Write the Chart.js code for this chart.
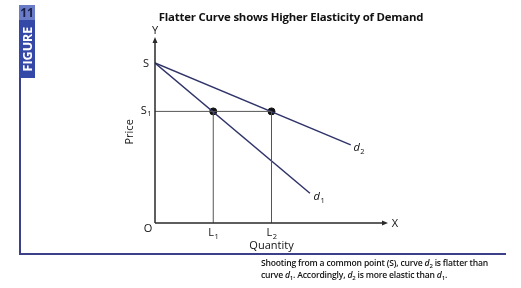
<!DOCTYPE html>
<html>
<head>
<meta charset="utf-8">
<script src="https://cdn.jsdelivr.net/npm/chart.js@4.4.1/dist/chart.umd.min.js"></script>
<style>
  html, body { margin: 0; padding: 0; background: #fff; }
  #wrap { position: relative; width: 521px; height: 288px; overflow: hidden; font-family: "Open Sans", "Noto Sans", sans-serif; }
  #c { position: absolute; left: 0; top: 0; }
  #title { position: absolute; left: 0; width: 521px; top: 9px; text-align: center; font-weight: bold; font-size: 11.4px; color: #111; letter-spacing: -0.2px; padding-left: 61px; box-sizing: border-box; }
  #figbox { position: absolute; left: 19px; top: 6px; width: 16px; height: 72px; background: #3448a8; }
  #fignum { position: absolute; left: 19px; top: 5px; width: 16px; text-align: center; font-weight: bold; font-size: 12px; color: #1a1f4a; background: #6a7cc8; line-height: 15px; }
  #figword { position: absolute; left: 27px; top: 49px; transform: translate(-50%, -50%) rotate(-90deg); font-weight: bold; font-size: 12.5px; color: #fff; white-space: nowrap; }
  #frameL { position: absolute; left: 19px; top: 78px; width: 2px; height: 177px; background: #3c4088; }
  #frameB { position: absolute; left: 19px; top: 253px; width: 487px; height: 2px; background: #3c4088; }
  #caption { position: absolute; left: 261px; top: 257px; font-size: 8.6px; line-height: 12px; color: #111; font-weight: 600; letter-spacing: -0.2px; white-space: nowrap; }
  #caption sub { font-size: 6px; vertical-align: -2px; line-height: 0; }
</style>
</head>
<body>
<div id="wrap">
  <canvas id="c" width="521" height="288"></canvas>
  <div id="title">Flatter Curve shows Higher Elasticity of Demand</div>
  <div id="figbox"></div>
  <div id="fignum">11</div>
  <div id="figword">FIGURE</div>
  <div id="frameL"></div>
  <div id="frameB"></div>
  <div id="caption">Shooting from a common point (S), curve <i>d</i><sub>2</sub> is flatter than<br>curve <i>d</i><sub>1</sub>. Accordingly, <i>d</i><sub>2</sub> is more elastic than <i>d</i><sub>1</sub>.</div>
</div>
<script>
// ---- data (quantity, price) ----
const priceS = 8.6;
const priceS1 = 6;
const qtyL1 = 2.5;
const qtyL2 = 5;
const d1Points = [{x: 0, y: priceS}, {x: 6.65, y: 1.6}];
const d2Points = [{x: 0, y: priceS}, {x: 8.4, y: 4.2}];
const guideH = [{x: 0, y: priceS1}, {x: qtyL2, y: priceS1}];
const guideL1 = [{x: qtyL1, y: 0}, {x: qtyL1, y: priceS1}];
const guideL2 = [{x: qtyL2, y: 0}, {x: qtyL2, y: priceS1}];
const equilibrium = [{x: qtyL1, y: priceS1}, {x: qtyL2, y: priceS1}];

const lineCol = '#2f3368';
const axisCol = '#2a2a2a';
const guideCol = '#555';

// draws the axes with arrows and all labels
const labelsPlugin = {
  id: 'labels',
  afterDatasetsDraw(chart) {
    const ctx = chart.ctx;
    const xs = chart.scales.x, ys = chart.scales.y;
    const x0 = xs.getPixelForValue(0), y0 = ys.getPixelForValue(0);
    const xEnd = xs.getPixelForValue(10), yTop = ys.getPixelForValue(10);
    ctx.save();
    ctx.strokeStyle = axisCol;
    ctx.fillStyle = axisCol;
    ctx.lineWidth = 1.5;
    ctx.beginPath();
    ctx.moveTo(x0, y0); ctx.lineTo(x0, yTop + 4);
    ctx.moveTo(x0, y0); ctx.lineTo(xEnd - 4, y0);
    ctx.stroke();
    ctx.beginPath();
    ctx.moveTo(x0, yTop); ctx.lineTo(x0 - 2.5, yTop + 6); ctx.lineTo(x0 + 2.5, yTop + 6); ctx.closePath();
    ctx.moveTo(xEnd, y0); ctx.lineTo(xEnd - 6, y0 - 2.5); ctx.lineTo(xEnd - 6, y0 + 2.5); ctx.closePath();
    ctx.fill();

    ctx.fillStyle = '#111';
    ctx.textBaseline = 'middle';
    ctx.textAlign = 'center';
    const f = '"Open Sans", "Noto Sans", sans-serif';
    function sub(txt, s, x, y, italic) {
      ctx.font = (italic ? 'italic ' : '') + '11px ' + f;
      const w = ctx.measureText(txt).width;
      ctx.font = '7.5px ' + f;
      const ws = ctx.measureText(s).width;
      const start = x - (w + ws) / 2;
      ctx.textAlign = 'left';
      ctx.font = (italic ? 'italic ' : '') + '11px ' + f;
      ctx.fillText(txt, start, y);
      ctx.font = '7.5px ' + f;
      ctx.fillText(s, start + w + 0.5, y + 3.5);
      ctx.textAlign = 'center';
    }
    ctx.font = '11px ' + f;
    ctx.fillText('Y', x0, yTop - 6);
    ctx.fillText('X', xEnd + 7, y0 + 1);
    ctx.fillText('O', x0 - 7, y0 + 6);
    ctx.fillText('S', x0 - 9, ys.getPixelForValue(priceS) + 1);
    sub('S', '1', x0 - 9, ys.getPixelForValue(priceS1) - 1, false);
    sub('L', '1', xs.getPixelForValue(qtyL1), y0 + 10, false);
    sub('L', '2', xs.getPixelForValue(qtyL2), y0 + 10, false);
    ctx.font = '11px ' + f;
    ctx.fillText('Quantity', xs.getPixelForValue(qtyL2), y0 + 23);
    sub('d', '2', xs.getPixelForValue(d2Points[1].x) + 8, ys.getPixelForValue(d2Points[1].y) + 3, true);
    sub('d', '1', xs.getPixelForValue(d1Points[1].x) + 9, ys.getPixelForValue(d1Points[1].y) + 4, true);
    ctx.font = '11px ' + f;
    ctx.translate(x0 - 25, ys.getPixelForValue(4.9));
    ctx.rotate(-Math.PI / 2);
    ctx.fillText('Price', 0, 0);
    ctx.restore();
  }
};

new Chart(document.getElementById('c'), {
  type: 'line',
  data: {
    datasets: [
      { data: guideH, borderColor: guideCol, borderWidth: 1, pointRadius: 0 },
      { data: guideL1, borderColor: guideCol, borderWidth: 1, pointRadius: 0 },
      { data: guideL2, borderColor: guideCol, borderWidth: 1, pointRadius: 0 },
      { data: d1Points, borderColor: lineCol, borderWidth: 1.5, pointRadius: 0 },
      { data: d2Points, borderColor: lineCol, borderWidth: 1.5, pointRadius: 0 },
      { data: equilibrium, showLine: false, pointRadius: 3.5, pointBackgroundColor: '#111', pointBorderColor: '#111' }
    ]
  },
  options: {
    responsive: false,
    animation: false,
    layout: { padding: { left: 155, right: 133, top: 37, bottom: 65 } },
    plugins: { legend: { display: false }, tooltip: { enabled: false }, title: { display: false } },
    scales: {
      x: { type: 'linear', min: 0, max: 10, display: false },
      y: { type: 'linear', min: 0, max: 10, display: false }
    },
    elements: { line: { tension: 0 } }
  },
  plugins: [labelsPlugin]
});
</script>
</body>
</html>
